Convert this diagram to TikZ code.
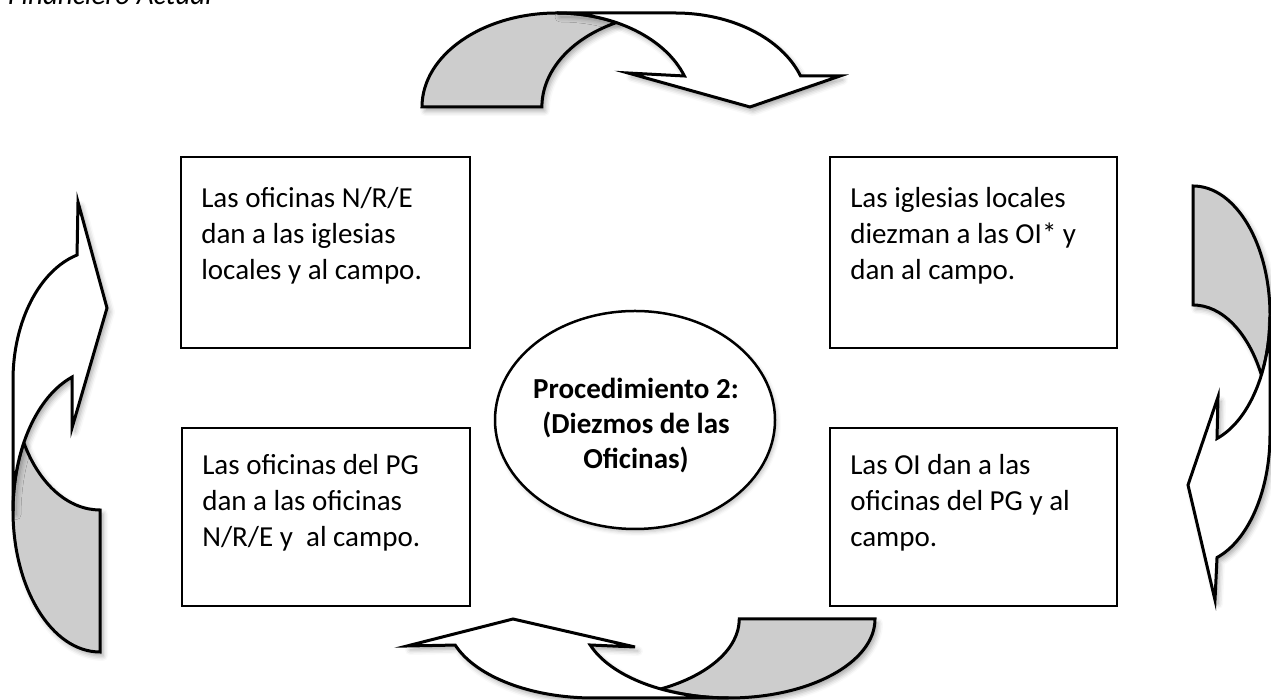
\documentclass[tikz,border=0pt]{standalone}
\usepackage{fontspec}
\setmainfont{Carlito}
\usetikzlibrary{shapes.geometric,shadows.blur}
\definecolor{bandgray}{RGB}{205,205,205}
\tikzset{
  arrowback/.style={draw=black, line width=3pt, fill=bandgray, line join=miter,
    blur shadow={shadow xshift=3pt, shadow yshift=-4pt, shadow blur radius=5pt, shadow opacity=35}},
  arrowfront/.style={draw=black, line width=3pt, fill=white, line join=miter,
    blur shadow={shadow xshift=3pt, shadow yshift=-4pt, shadow blur radius=5pt, shadow opacity=35}},
  infobox/.style={draw=black, line width=1.8pt, fill=white, rectangle, inner sep=0pt},
  boxtext/.style={anchor=north west, inner sep=0pt, align=left, font=\fontsize{29}{36}\selectfont},
  centreshape/.style={draw=black, line width=2.5pt, fill=white, ellipse, inner sep=0pt,
    blur shadow={shadow xshift=2pt, shadow yshift=-3pt, shadow blur radius=4pt, shadow opacity=25}},
  centretext/.style={inner sep=0pt, align=center, font=\bfseries\fontsize{29}{35}\selectfont}
}
\begin{document}
\begin{tikzpicture}[x=1pt,y=1pt]
\useasboundingbox (0,0) rectangle (1271,700);

% header fragment
\node[anchor=base west, inner sep=0pt, font=\itshape\fontsize{29}{36}\selectfont] (hdr) at (8,695) {Financiero Actual};

% boxes
\node[infobox, minimum width=289pt, minimum height=191pt] (b1) at (325.5,447.5) {};
\node[infobox, minimum width=287pt, minimum height=191pt] (b2) at (973.5,447.5) {};
\node[infobox, minimum width=288pt, minimum height=178pt] (b3) at (326,183) {};
\node[infobox, minimum width=287pt, minimum height=178pt] (b4) at (973.5,183) {};

\node[boxtext] (t1) at ([xshift=21pt,yshift=-31pt]b1.north west) {Las oficinas N/R/E\\dan a las iglesias\\locales y al campo.};
\node[boxtext] (t2) at ([xshift=21pt,yshift=-31pt]b2.north west) {Las iglesias locales\\diezman a las OI* y\\dan al campo.};
\node[boxtext] (t3) at ([xshift=21pt,yshift=-27pt]b3.north west) {Las oficinas del PG\\dan a las oficinas\\N/R/E y\ \ al campo.};
\node[boxtext] (t4) at ([xshift=21pt,yshift=-27pt]b4.north west) {Las OI dan a las\\oficinas del PG y al\\campo.};

% centre ellipse
\node[centreshape, minimum width=280pt, minimum height=218pt] (c) at (635,280) {};
\node[centretext] (ct) at (636,274) {Procedimiento 2:\\(Diezmos de las\\Oficinas)};

% top curved arrow
\draw[arrowback] (422,593) arc[start angle=180,end angle=63.9,x radius=135pt,y radius=94pt]
  arc[start angle=116.1,end angle=180,x radius=133pt,y radius=94pt] -- cycle;
\draw[arrowfront] (675,687) arc[start angle=90,end angle=19.26,x radius=133pt,y radius=94pt]
  -- (840,624) -- (750,593) -- (628,627) -- (684.4,624)
  arc[start angle=19.26,end angle=90,x radius=135pt,y radius=94pt] -- cycle;

% right curved arrow
\draw[arrowback] (1193,514) arc[start angle=90,end angle=-27.35,x radius=77pt,y radius=129.5pt]
  arc[start angle=27.35,end angle=90,x radius=77pt,y radius=129.5pt] -- cycle;
\draw[arrowfront] (1270,265.5) arc[start angle=0,end angle=-71.84,x radius=77pt,y radius=129.5pt]
  -- (1215,100) -- (1188,215) -- (1218,303) -- (1217,261.5)
  arc[start angle=-71.84,end angle=0,x radius=77pt,y radius=129.5pt] -- cycle;

% bottom curved arrow
\draw[arrowback] (875,81) arc[start angle=0,end angle=-117.6,x radius=146.5pt,y radius=79pt]
  arc[start angle=-62.4,end angle=0,x radius=146.5pt,y radius=79pt] -- cycle;
\draw[arrowfront] (593.5,2) arc[start angle=-90,end angle=-160.74,x radius=146.5pt,y radius=79pt]
  -- (407,54) -- (513,81) -- (635,53) -- (590.2,55)
  arc[start angle=-160.74,end angle=-90,x radius=146.5pt,y radius=79pt] -- cycle;

% left curved arrow
\draw[arrowback] (100,48) arc[start angle=270,end angle=151.16,x radius=87pt,y radius=141.2pt]
  arc[start angle=208.78,end angle=270,x radius=87pt,y radius=129.8pt] -- cycle;
\draw[arrowfront] (13,319.8) arc[start angle=180,end angle=105.3,x radius=87pt,y radius=129.8pt]
  -- (78,498) -- (107,392) -- (72,272) -- (72,322.9)
  arc[start angle=108.8,end angle=180,x radius=87pt,y radius=141.2pt] -- cycle;
\end{tikzpicture}
\end{document}
